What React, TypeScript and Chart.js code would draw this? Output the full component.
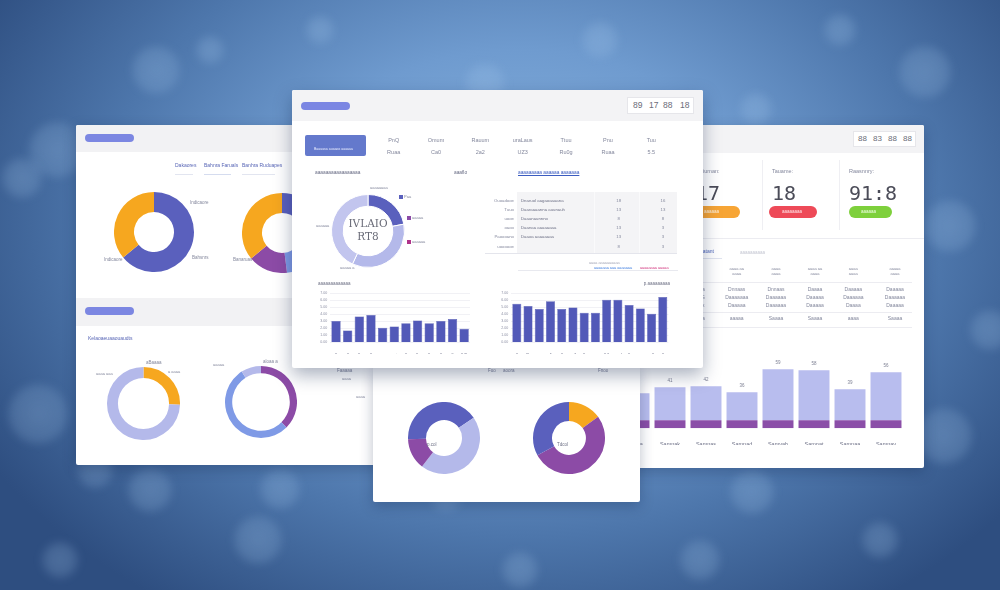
import React, { useEffect, useRef } from "react";
import { Chart, registerables } from "chart.js";

Chart.register(...registerables);
Chart.defaults.font.family = "'Liberation Sans', 'DejaVu Sans', sans-serif";

const INDIGO = "#5a60bd";
const ORANGE = "#f6a71f";
const PURPLE = "#8c4ba6";
const LAVENDER = "#b4b9ea";
const LAVENDER_2 = "#c2c5ee";
const SKY = "#7f9ae6";
const BAR_BLUE = "#5259b8";
const STACK_TOP = "#b8bdee";
const STACK_BASE = "#8b4ea8";

// Upper-left panel doughnuts
const channelLabels = ["Indicaore", "Dakaore"];
const channelValues = [64, 36];
const sourceLabels = ["Bahnra", "Ruduapes", "Faruals", "Dakaore"];
const sourceValues = [28, 20, 16, 36];

// Lower-left panel rings
const reachLabels = ["aBaaa", "laaaa"];
const reachValues = [25.5, 74.5];
const retentionLabels = ["aloaa", "aooaa", "laaa"];
const retentionValues = [37.5, 53.5, 9];

// Main panel ring
const mainRingLabels = ["Pooa", "Raaoa", "Ralaaa"];
const mainRingValues = [22, 35, 43];

// Lower-centre doughnuts
const pcolLabels = ["Indaa", "Laaao", "Paaoo"];
const pcolValues = [41, 45, 14];
const tdcolLabels = ["Oraaa", "Puaao", "Indaa"];
const tdcolValues = [15, 52, 33];

// Main panel bar charts
const monthlyLabels = ["alla", "olle", "alla", "alla", "aan", "aoi", "alla", "aller", "alla", "alla", "alla", "lldll"];
const monthlyValues = [3.05, 1.69, 3.66, 3.9, 2.07, 2.25, 2.72, 3.1, 2.72, 3.05, 3.33, 1.93];
const weeklyLabels = ["alla", "dlla", "aaa", "alls", "alla", "aall", "alla", "aaa", "lldl", "aaal", "alla", "aaa", "aalla", "alla"];
const weeklyValues = [5.5, 5.18, 4.76, 5.84, 4.76, 4.94, 4.2, 4.2, 6.06, 6.06, 5.32, 4.8, 4.06, 6.44];

// Right panel stacked bars
const regionLabels = ["Samna", "Samnak", "Samnas", "Samnad", "Samvab", "Samnat", "Samnaa", "Samnav"];
const regionBase = [8, 8, 8, 8, 8, 8, 8, 8];
const regionTop = [27, 33, 34, 28, 51, 50, 31, 48];

// Main panel header figures
const statHeads = ["PnQ", "Omum", "Rauum", "uraLaus", "Ttuu", "Pnu", "Tuu"];
const statValues = ["Ruaa", "Ca0", "2a2", "UZ3", "Ru0g", "Ruaa", "5.5"];

// Main panel table
const rowNames = ["Ouoadooe", "Tuuo", "uooe", "oaoo", "Paoooano", "uoooooe"];
const rowDescs = ["Dnaruol aagaoaaaana", "Daaraaaanna auunauh", "Daaanaunnno", "Daanaa aaaaaaaa", "Daaoa aaaaaaaa", ""];
const rowValA = ["18", "13", "8", "13", "13", "8"];
const rowValB = ["16", "13", "8", "3", "3", "3"];

// Right panel KPI cards
const kpiTitles = ["Liuman:", "Tauame:", "Raasnnry:"];
const kpiValues = ["17", "18", "91:8"];
const kpiColors = ["#f7a535", "#ee4a58", "#7ed03c"];

// Right panel table
const tableHeads = ["aaaa aa", "aaaa", "aaaa aa", "aaaa", "aaaaa"];
const tableRows = [
  ["Dnnaas", "Dnnaas", "Daaaa", "Daaaaa", "Daaaaa"],
  ["Daaaaaaa", "Daaaaaa", "Daaaaa", "Daaaaaa", "Daaaaaa"],
  ["Daaaaa", "Daaaaaa", "Daaaaa", "Daaaa", "Daaaaa"],
];
const tableTotals = ["aaaaa", "Saaaa", "Saaaa", "aaaa", "Saaaa"];

type Pos = { left: number; top: number; width: number; height: number };

function ChartCanvas({ pos, make }: { pos: Pos; make: () => any }) {
  const ref = useRef<HTMLCanvasElement>(null);
  useEffect(() => {
    const chart = new Chart(ref.current as HTMLCanvasElement, make());
    return () => chart.destroy();
  }, []);
  return (
    <canvas
      ref={ref}
      width={pos.width}
      height={pos.height}
      style={{ position: "absolute", left: pos.left, top: pos.top, width: pos.width, height: pos.height }}
    />
  );
}

function Donut({ cx, cy, r, labels, values, colors, cutout, rotation = 0, border = 0 }: any) {
  const size = Math.round(r * 2);
  return (
    <ChartCanvas
      pos={{ left: cx - size / 2, top: cy - size / 2, width: size, height: size }}
      make={() => ({
        type: "doughnut",
        data: {
          labels,
          datasets: [{ data: values, backgroundColor: colors, borderWidth: border, borderColor: "#ffffff" }],
        },
        options: {
          responsive: false,
          animation: false,
          events: [],
          cutout,
          rotation,
          layout: { padding: 0 },
          plugins: { legend: { display: false }, tooltip: { enabled: false } },
        },
      })}
    />
  );
}

function smallBars(labels: string[], values: number[], padTop: number, padRight: number, yWidth: number, xHeight: number) {
  return {
    type: "bar",
    data: {
      labels,
      datasets: [
        {
          data: values,
          backgroundColor: BAR_BLUE,
          borderColor: "#444ca9",
          borderWidth: 0.5,
          barPercentage: 0.8,
          categoryPercentage: 1,
        },
      ],
    },
    options: {
      responsive: false,
      animation: false,
      events: [],
      layout: { padding: { top: padTop, right: padRight, left: 0, bottom: 0 } },
      plugins: { legend: { display: false }, tooltip: { enabled: false } },
      scales: {
        x: {
          grid: { display: false },
          border: { display: false },
          ticks: { font: { size: 4.3 }, color: "#6c7088", padding: 2, maxRotation: 0, autoSkip: false },
          afterFit: (s: any) => {
            s.height = xHeight;
          },
        },
        y: {
          min: 0,
          max: 7,
          ticks: {
            stepSize: 1,
            autoSkip: false,
            font: { size: 3.6 },
            color: "#8d90a4",
            padding: 3,
            callback: (v: any) => Number(v).toFixed(2),
          },
          grid: { color: "#e7e8ef", lineWidth: 0.6, drawTicks: false },
          border: { display: false },
          afterFit: (s: any) => {
            s.width = yWidth;
          },
        },
      },
    },
  };
}

// writes each stacked column's total just above it
const totalsPlugin = {
  id: "stackTotals",
  afterDatasetsDraw(chart: any) {
    const ctx = chart.ctx;
    const meta = chart.getDatasetMeta(chart.data.datasets.length - 1);
    ctx.save();
    ctx.font = "4.5px 'Liberation Sans', sans-serif";
    ctx.fillStyle = "#7c7f92";
    ctx.textAlign = "center";
    ctx.textBaseline = "bottom";
    meta.data.forEach((el: any, i: number) => {
      const total = regionBase[i] + regionTop[i];
      ctx.fillText(String(total), el.x, el.y - 4);
    });
    ctx.restore();
  },
};

function T({ x, y, s = 5, c = "#84889d", children, anchor, w, style }: any) {
  let transform: string | undefined;
  if (anchor === "middle") transform = "translateX(-50%)";
  if (anchor === "end") transform = "translateX(-100%)";
  return (
    <div
      style={{
        position: "absolute",
        left: x,
        top: y,
        fontSize: s,
        color: c,
        whiteSpace: "nowrap",
        lineHeight: 1,
        transform,
        fontWeight: w,
        ...style,
      }}
    >
      {children}
    </div>
  );
}

function Box({ x, y, w, h, c, r = 0, style }: any) {
  return (
    <div
      style={{ position: "absolute", left: x, top: y, width: w, height: h, background: c, borderRadius: r, ...style }}
    />
  );
}

function Panel({ x, y, w, h, z, shadow, children }: any) {
  return (
    <div
      style={{
        position: "absolute",
        left: x,
        top: y,
        width: w,
        height: h,
        background: "#ffffff",
        zIndex: z,
        overflow: "hidden",
        borderRadius: 2,
        boxShadow: shadow || "0 4px 14px rgba(10,30,70,0.28)",
      }}
    >
      <div style={{ position: "absolute", left: -x, top: -y, width: 1000, height: 590 }}>{children}</div>
    </div>
  );
}

// soft out-of-focus lights in the backdrop
const bokeh = [
  [156, 70, 24], [57, 150, 28], [22, 178, 20], [38, 414, 30], [95, 470, 18], [150, 490, 22],
  [280, 489, 20], [258, 540, 24], [446, 495, 16], [752, 492, 22], [944, 436, 28], [950, 226, 26],
  [925, 72, 26], [756, 109, 16], [485, 83, 20], [600, 40, 18], [840, 30, 16], [990, 330, 20],
  [700, 560, 20], [520, 570, 18], [880, 540, 18], [60, 560, 18], [210, 50, 14], [320, 30, 14],
];

export default function App() {
  useEffect(() => {
    document.body.style.margin = "0";
  }, []);

  return (
    <div
      style={{
        position: "fixed",
        left: 0,
        top: 0,
        width: 1000,
        height: 590,
        overflow: "hidden",
        fontFamily: "'Liberation Sans', 'DejaVu Sans', sans-serif",
        background:
          "radial-gradient(ellipse 62% 78% at 52% 38%, #8ab5e1 0%, #6f9bcf 38%, #4d76ab 68%, #2e4e80 100%)",
      }}
    >
      {bokeh.map(([x, y, r], i) => (
        <div
          key={i}
          style={{
            position: "absolute",
            left: x - r,
            top: y - r,
            width: r * 2,
            height: r * 2,
            borderRadius: "50%",
            background: "radial-gradient(circle, rgba(170,205,240,0.26) 0%, rgba(170,205,240,0.18) 60%, rgba(170,205,240,0) 100%)",
            filter: "blur(4px)",
          }}
        />
      ))}

      {/* Left panel */}
      <Panel x={76} y={125} w={330} h={340} z={1}>
        <Box x={76} y={125} w={330} h={27} c="#f2f2f4" />
        <Box x={85} y={134} w={49} h={8} c="#7c87e2" r={4} />
        <T x={175} y={163} c="#5866b6">Dakaores</T>
        <T x={204} y={163} c="#5866b6">Bahnra Faruals</T>
        <T x={242} y={163} c="#5866b6">Banhra Ruduapes</T>
        <Box x={175} y={174} w={18} h={1} c="#e2e5f0" />
        <Box x={204} y={174} w={27} h={1} c="#d5dcef" />
        <Box x={242} y={174} w={33} h={1} c="#e2e5f0" />
        <Donut cx={153.7} cy={231.7} r={40} labels={channelLabels} values={channelValues} colors={[INDIGO, ORANGE]} cutout="50%" />
        <T x={190} y={201} s={4.5}>Indicaore</T>
        <T x={192} y={256} s={4.5}>Bahsnrs</T>
        <T x={104} y={258} s={4.5}>Indicaore</T>
        <Donut cx={282} cy={233} r={40} labels={sourceLabels} values={sourceValues} colors={[INDIGO, SKY, PURPLE, ORANGE]} cutout="50%" />
        <T x={233} y={258} s={4.5}>Banaruas</T>

        <Box x={76} y={298} w={330} h={28} c="#f2f2f4" />
        <Box x={85} y={307} w={49} h={8} c="#7c87e2" r={4} />
        <T x={88} y={336} c="#5866b6">Kelaoaeuaaouaudts</T>
        <Donut cx={143.7} cy={403} r={36.5} labels={reachLabels} values={reachValues} colors={[ORANGE, LAVENDER]} cutout="70%" />
        <T x={146} y={361} s={4.5}>aBaaaa</T>
        <T x={168} y={370} s={4}>a aaaa</T>
        <T x={96} y={372} s={4}>aaaa aaa</T>
        <Donut cx={261} cy={402} r={36} labels={retentionLabels} values={retentionValues} colors={[PURPLE, SKY, LAVENDER]} cutout="80%" />
        <T x={263} y={360} s={4.5}>aloaa a</T>
        <T x={213} y={363} s={4}>aaaaa</T>
        <T x={337} y={369} s={4.5}>Faaaaa</T>
        <T x={342} y={377} s={4}>aaaa</T>
        <T x={356} y={395} s={4}>aaaa</T>
      </Panel>

      {/* Right panel */}
      <Panel x={600} y={125} w={324} h={343} z={1}>
        <Box x={600} y={125} w={324} h={28} c="#f3f3f5" />
        <Box x={853} y={131} w={63} h={16} c="#ffffff" style={{ border: "1px solid #e6e6ea", boxSizing: "border-box" }} />
        {["88", "83", "88", "88"].map((g, i) => (
          <T key={i} x={858 + i * 15} y={135} s={8} c="#6a6c78">{g}</T>
        ))}
        <Box x={762} y={160} w={1} h={70} c="#efeff3" />
        <Box x={839} y={160} w={1} h={70} c="#efeff3" />
        {kpiTitles.map((t, i) => (
          <T key={t} x={[700, 772, 849][i]} y={169} s={5.5}>{t}</T>
        ))}
        {kpiValues.map((v, i) => (
          <T key={v} x={[696, 772, 849][i]} y={183} s={20} c="#4b4c58" w={200} style={{ fontFamily: "'DejaVu Sans Mono', monospace" }}>{v}</T>
        ))}
        {kpiColors.map((c, i) => (
          <Box key={c} x={[690, 769, 849][i]} y={206} w={[50, 48, 43][i]} h={12} c={c} r={6} />
        ))}
        <T x={704} y={210} s={4.5} c="#fff3e0">aaaaaa</T>
        <T x={782} y={210} s={4.5} c="#ffe8ea">aaaaaaaa</T>
        <T x={861} y={210} s={4.5} c="#f0ffe6">aaaaaa</T>
        <Box x={600} y={238} w={324} h={1} c="#ececf1" />
        <T x={700} y={249} s={5} c="#4a62b8">aatant</T>
        <Box x={700} y={258} w={22} h={1} c="#dfe3ef" />
        <T x={740} y={251} s={4.5} c="#c4c6d2">aaaaaaaaaa</T>
        {tableHeads.map((h, i) => (
          <React.Fragment key={i}>
            <T x={[736.7, 776, 815, 853.3, 895][i]} y={267} s={4} anchor="middle">{h}</T>
            <T x={[736.7, 776, 815, 853.3, 895][i]} y={272} s={4} anchor="middle">aaaa</T>
          </React.Fragment>
        ))}
        <Box x={600} y={282} w={312} h={1} c="#ececf1" />
        {tableRows.map((row, r) =>
          row.map((cell, i) => (
            <T key={r + "-" + i} x={[736.7, 776, 815, 853.3, 895][i]} y={287 + r * 7.8} s={5} anchor="middle">{cell}</T>
          ))
        )}
        {["ia", "G", "ik"].map((c, r) => (
          <T key={c} x={701} y={287 + r * 7.8} s={5}>{c}</T>
        ))}
        <Box x={600} y={312} w={312} h={1} c="#ececf1" />
        <T x={702} y={316} s={5}>a</T>
        {tableTotals.map((c, i) => (
          <T key={i} x={[736.7, 776, 815, 853.3, 895][i]} y={316} s={5} anchor="middle">{c}</T>
        ))}
        <Box x={600} y={327} w={312} h={1} c="#ececf1" />
        <ChartCanvas
          pos={{ left: 612, top: 345, width: 300, height: 100 }}
          make={() => ({
            type: "bar",
            data: {
              labels: regionLabels,
              datasets: [
                { data: regionBase, backgroundColor: STACK_BASE, barPercentage: 0.86, categoryPercentage: 1 },
                { data: regionTop, backgroundColor: STACK_TOP, barPercentage: 0.86, categoryPercentage: 1 },
              ],
            },
            options: {
              responsive: false,
              animation: false,
              events: [],
              layout: { padding: { top: 3.3, right: 8, left: 4, bottom: 0 } },
              plugins: { legend: { display: false }, tooltip: { enabled: false } },
              scales: {
                x: {
                  stacked: true,
                  grid: { display: false },
                  border: { display: false },
                  ticks: { font: { size: 5.5 }, color: "#6f7288", padding: 5, maxRotation: 0, autoSkip: false },
                  afterFit: (s: any) => {
                    s.height = 16.7;
                  },
                },
                y: { stacked: true, min: 0, max: 80, display: false },
              },
            },
            plugins: [totalsPlugin],
          })}
        />
      </Panel>

      {/* Lower centre panel */}
      <Panel x={373} y={365} w={267} h={137} z={2}>
        <T x={488} y={369} s={4.5}>Fuo</T>
        <T x={503} y={369} s={4.5}>aoora</T>
        <T x={598} y={369} s={4.5}>Fnoo</T>
        <Donut cx={443.7} cy={437.7} r={36} labels={pcolLabels} values={pcolValues} colors={[INDIGO, LAVENDER, PURPLE]} cutout="50%" rotation={-92} />
        <T x={427} y={443} s={4.5} c="#6d7085">p.col</T>
        <Donut cx={568.7} cy={437.7} r={36} labels={tdcolLabels} values={tdcolValues} colors={[ORANGE, PURPLE, INDIGO]} cutout="47%" />
        <T x={557} y={443} s={4.5} c="#6d7085">Tdcol</T>
      </Panel>

      {/* Main panel */}
      <Panel x={292} y={90} w={411} h={278} z={3} shadow="0 7px 18px rgba(10,30,70,0.35)">
        <Box x={292} y={90} w={411} h={31} c="#f3f3f5" />
        <Box x={301} y={102} w={49} h={8} c="#7b86e3" r={4} />
        <Box x={627} y={97} w={67} h={17} c="#ffffff" style={{ border: "1px solid #e6e6ea", boxSizing: "border-box" }} />
        {["89", "17", "88", "18"].map((g, i) => (
          <T key={i} x={[633, 649, 663, 680][i]} y={101} s={8.5} c="#6a6c78">{g}</T>
        ))}
        <Box x={305} y={135} w={61} h={21} c="#6479cc" r={2} />
        <T x={314} y={148} s={3.5} c="#e8ecff">Baauasa auaaas aaaaaa</T>
        {statHeads.map((h, i) => (
          <React.Fragment key={i}>
            <T x={[393.7, 436, 480.3, 522.7, 566, 608, 651.3][i]} y={138} s={5.5} anchor="middle">{h}</T>
            <T x={[393.7, 436, 480.3, 522.7, 566, 608, 651.3][i]} y={150} s={5.5} anchor="middle">{statValues[i]}</T>
          </React.Fragment>
        ))}
        <T x={315} y={171} s={4.8} c="#676b84">aaaaaaaaaaaaaaaaa</T>
        <T x={454} y={171} s={4.8} c="#676b84">aaaflo</T>
        <T x={518} y={171} s={4.8} c="#3b5cc0" style={{ textDecoration: "underline" }}>aaaaaaaaa aaaaaa aaaaaaa</T>

        <Donut cx={367.5} cy={230.5} r={37} labels={mainRingLabels} values={mainRingValues} colors={[INDIGO, LAVENDER, LAVENDER_2]} cutout="68%" border={1} />
        <T x={368} y={218} s={10.5} c="#6a6c78" anchor="middle" style={{ fontFamily: "'DejaVu Serif', serif", fontWeight: 200 }}>IVLAIO</T>
        <T x={368} y={231} s={10.5} c="#6a6c78" anchor="middle" style={{ fontFamily: "'DejaVu Serif', serif", fontWeight: 200 }}>RT8</T>
        <T x={370} y={186} s={4}>aaaaaaaa</T>
        <T x={316} y={224} s={4}>aaaaaa</T>
        <T x={340} y={266} s={4}>aaaaa a</T>
        <Box x={399} y={195} w={3.5} h={3.5} c={INDIGO} />
        <T x={404} y={195} s={4}>Paa</T>
        <Box x={407} y={216} w={3.5} h={3.5} c={PURPLE} />
        <T x={412} y={216} s={4}>aaaaa</T>
        <Box x={407} y={240} w={3.5} h={3.5} c="#b0338a" />
        <T x={412} y={240} s={4}>aaaaaa</T>

        <Box x={517} y={192} w={160} h={61} c="#f4f4f6" />
        <Box x={594} y={192} w={1} h={61} c="#fafafb" />
        <Box x={639} y={192} w={1} h={61} c="#fafafb" />
        {rowNames.map((n, i) => (
          <React.Fragment key={i}>
            <T x={514} y={198.5 + i * 9.2} s={4.3} anchor="end">{n}</T>
            <T x={521} y={198.5 + i * 9.2} s={4.3} c="#6d7086">{rowDescs[i]}</T>
            <T x={618.7} y={198.5 + i * 9.2} s={4.3} anchor="middle">{rowValA[i]}</T>
            <T x={663} y={198.5 + i * 9.2} s={4.3} anchor="middle">{rowValB[i]}</T>
          </React.Fragment>
        ))}
        <Box x={485} y={253} w={192} h={1} c="#e4e5ec" />
        <Box x={518} y={270} w={160} h={0.8} c="#e8e9ef" />
        <T x={589} y={262} s={3.8} c="#a3a6b6">aaaa aaaaaaaaaa</T>
        <T x={594} y={267} s={3.8} c="#3e7ddf">aaaaaaa aaa aaaaaaa</T>
        <T x={640} y={267} s={3.8} c="#d0307a">aaaaaaaa aaaaa</T>

        <T x={318} y={282} s={4.5} c="#6d7085">aaaaaaaaaaaaa</T>
        <ChartCanvas pos={{ left: 316, top: 288, width: 160, height: 66 }} make={() => smallBars(monthlyLabels, monthlyValues, 4.7, 6, 14.2, 11.7)} />
        <T x={670} y={282} s={4.5} c="#6d7085" anchor="end">p.aaaaaaaaa</T>
        <ChartCanvas pos={{ left: 494, top: 288, width: 180, height: 66 }} make={() => smallBars(weeklyLabels, weeklyValues, 4.3, 5.6, 17.2, 11.7)} />
      </Panel>
    </div>
  );
}
